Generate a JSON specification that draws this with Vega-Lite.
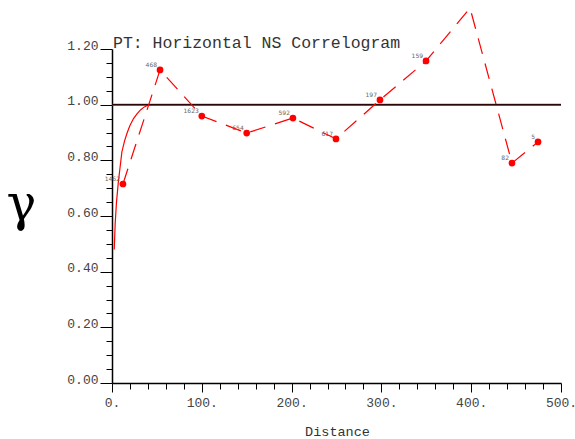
{
  "$schema": "https://vega.github.io/schema/vega-lite/v6.json",
  "width": 449,
  "height": 334,
  "autosize": {"type": "none"},
  "padding": {"left": 112, "top": 49, "right": 14, "bottom": 56},
  "background": "white",
  "config": {"view": {"stroke": null}},
  "title": {
    "text": "PT: Horizontal NS Correlogram",
    "anchor": "start",
    "frame": "group",
    "font": "Liberation Mono",
    "fontSize": 16.5,
    "fontWeight": "normal",
    "color": "#333333",
    "baseline": "alphabetic",
    "offset": 0,
    "dx": 1,
    "dy": 59
  },
  "datasets": {
    "exp": [
      {"d": 12.2, "g": 0.715, "pairs": "1462"},
      {"d": 53.5, "g": 1.125, "pairs": "468"},
      {"d": 100, "g": 0.959, "pairs": "1623"},
      {"d": 150, "g": 0.898, "pairs": "654"},
      {"d": 201.5, "g": 0.952, "pairs": "592"},
      {"d": 249.4, "g": 0.877, "pairs": "617"},
      {"d": 298.4, "g": 1.017, "pairs": "197"},
      {"d": 349.7, "g": 1.157, "pairs": "159"},
      {"d": 398.7, "g": 1.347, "pairs": null},
      {"d": 445.4, "g": 0.79, "pairs": "82"},
      {"d": 474.4, "g": 0.866, "pairs": "5"}
    ],
    "model": [
      {"d": 2.5, "g": 0.48},
      {"d": 3.5, "g": 0.57},
      {"d": 5, "g": 0.65},
      {"d": 7, "g": 0.72},
      {"d": 9, "g": 0.775},
      {"d": 11, "g": 0.83},
      {"d": 14, "g": 0.87},
      {"d": 17, "g": 0.9},
      {"d": 20, "g": 0.925},
      {"d": 24, "g": 0.95},
      {"d": 28, "g": 0.968},
      {"d": 32, "g": 0.982},
      {"d": 36, "g": 0.992},
      {"d": 40, "g": 0.998},
      {"d": 45, "g": 1.0},
      {"d": 500, "g": 1.0}
    ],
    "sill": [
      {"d": 0, "g": 1.0},
      {"d": 500, "g": 1.0}
    ]
  },
  "encoding": {
    "x": {
      "field": "d",
      "type": "quantitative",
      "scale": {"domain": [0, 500], "nice": false, "zero": false},
      "axis": {
        "title": "Distance",
        "titleFont": "Liberation Mono",
        "titleFontSize": 13.5,
        "titleFontWeight": "normal",
        "titleColor": "#333333",
        "titleX": 225,
        "titleY": 48,
        "titleBaseline": "middle",
        "titleAlign": "center",
        "values": [0, 20, 40, 60, 80, 100, 120, 140, 160, 180, 200, 220, 240, 260, 280, 300, 320, 340, 360, 380, 400, 420, 440, 460, 480, 500],
        "labelExpr": "datum.value % 100 === 0 ? datum.value + '.' : ''",
        "labelFont": "Liberation Mono",
        "labelFontSize": 13,
        "labelColor": "#444444",
        "labelOverlap": false,
        "labelFlush": false,
        "labelBaseline": "top",
        "labelPadding": 4,
        "tickSize": {"condition": {"test": "datum.value % 100 === 0", "value": 9}, "value": 6},
        "tickColor": "black",
        "tickWidth": 1,
        "domainColor": "black",
        "domainWidth": 1.5,
        "grid": false
      }
    },
    "y": {
      "field": "g",
      "type": "quantitative",
      "scale": {"domain": [0, 1.2], "nice": false, "zero": false},
      "axis": {
        "title": "γ",
        "titleFont": "DejaVu Serif",
        "titleFontSize": 50,
        "titleFontWeight": "normal",
        "titleColor": "black",
        "titleAngle": 0,
        "titleX": -91,
        "titleY": 170,
        "titleAlign": "center",
        "titleBaseline": "alphabetic",
        "values": [0, 0.05, 0.1, 0.15, 0.2, 0.25, 0.3, 0.35, 0.4, 0.45, 0.5, 0.55, 0.6, 0.65, 0.7, 0.75, 0.8, 0.85, 0.9, 0.95, 1.0, 1.05, 1.1, 1.15, 1.2],
        "labelExpr": "abs(datum.value * 5 - round(datum.value * 5)) < 0.000001 ? format(datum.value, '.2f') : ''",
        "labelFont": "Liberation Mono",
        "labelFontSize": 13,
        "labelColor": "#444444",
        "labelOverlap": false,
        "labelFlush": false,
        "labelBaseline": "alphabetic",
        "labelPadding": 2,
        "tickSize": {"condition": {"test": "abs(datum.value * 5 - round(datum.value * 5)) < 0.000001", "value": 12}, "value": 6},
        "tickColor": "black",
        "tickWidth": 1,
        "domainColor": "black",
        "domainWidth": 1.5,
        "grid": false
      }
    }
  },
  "layer": [
    {
      "data": {"name": "model"},
      "mark": {"type": "line", "color": "#ff0000", "strokeWidth": 1.2, "clip": false},
      "encoding": {}
    },
    {
      "data": {"name": "sill"},
      "mark": {"type": "line", "color": "#b02020", "strokeWidth": 2, "clip": false},
      "encoding": {}
    },
    {
      "data": {"name": "sill"},
      "mark": {"type": "line", "color": "#2a0808", "strokeWidth": 1.1, "clip": false},
      "encoding": {}
    },
    {
      "data": {"name": "exp"},
      "mark": {"type": "line", "color": "#ff0000", "strokeWidth": 1.2, "strokeDash": [16, 10], "clip": false},
      "encoding": {}
    },
    {
      "data": {"name": "exp"},
      "transform": [{"filter": "datum.pairs != null"}],
      "mark": {"type": "circle", "color": "#ff0000", "opacity": 1, "size": 45, "clip": false},
      "encoding": {}
    },
    {
      "data": {"name": "exp"},
      "transform": [{"filter": "datum.pairs != null"}],
      "mark": {"type": "text", "font": "DejaVu Sans", "fontSize": 6, "color": "#666666", "align": "right", "baseline": "alphabetic", "dx": -3, "dy": -3},
      "encoding": {"text": {"field": "pairs"}}
    }
  ]
}
